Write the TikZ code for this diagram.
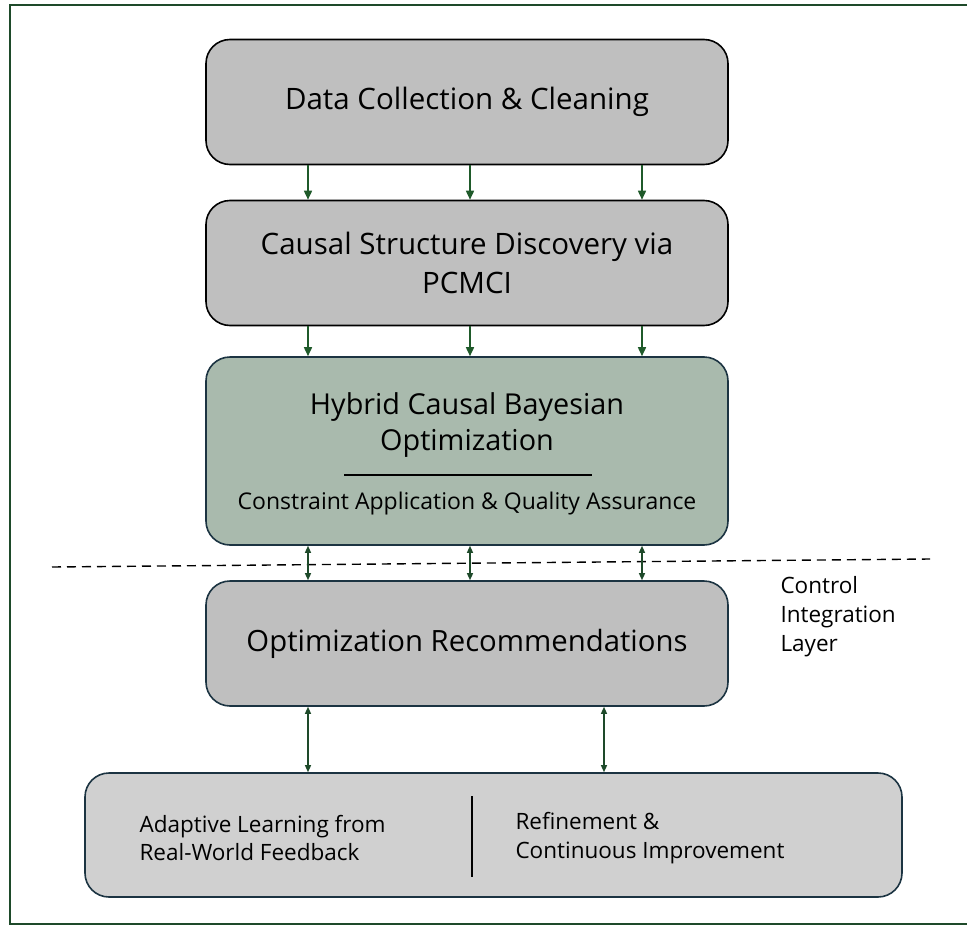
\documentclass[tikz,border=0pt]{standalone}
\usepackage{fontspec}
\setmainfont{Open Sans}
\usetikzlibrary{arrows.meta}
\definecolor{framegreen}{HTML}{1E4A2A}
\definecolor{arrowgreen}{HTML}{1F5A2A}
\definecolor{boxgrey}{HTML}{BFBFBF}
\definecolor{lightgrey}{HTML}{D0D0D0}
\definecolor{sage}{HTML}{A9BAAD}
\definecolor{navyedge}{HTML}{1C3442}
\tikzset{
  stage/.style={draw=black, line width=1.6pt, fill=boxgrey, rounded corners=24pt,
    minimum width=522pt, minimum height=125pt, align=center, inner sep=0pt},
  tealstage/.style={stage, draw=navyedge},
  flow/.style={draw=arrowgreen, line width=1.6pt, -{Triangle[length=9pt,width=8pt]}},
  biflow/.style={draw=framegreen, line width=1.3pt, {Triangle[length=7pt,width=6pt]}-{Triangle[length=7pt,width=6pt]}},
  bigtext/.style={font=\fontsize{29.5}{39}\selectfont},
  midtext/.style={font=\fontsize{23}{29}\selectfont},
  smalltext/.style={font=\fontsize{22.5}{28.8}\selectfont}
}
\begin{document}
\begin{tikzpicture}[x=1pt,y=-1pt]
\useasboundingbox (0,0) rectangle (967,926);
% outer frame (open on the right)
\draw[framegreen, line width=2.5pt] (967,5) -- (10,5) -- (10,924) -- (967,924);

% pipeline stages
\node[stage, bigtext] (collect) at (467,102) {Data Collection \& Cleaning};
\node[stage, bigtext] (discover) at (467,263) {Causal Structure Discovery via\\PCMCI};
\node[tealstage, fill=sage, minimum height=188pt] (hybrid) at (467,451) {};
\node[font=\fontsize{28.8}{36}\selectfont, align=center] (hybridtitle) at (467,425) {Hybrid Causal Bayesian\\Optimization};
\node[midtext] (constraint) at (467,504) {Constraint Application \& Quality Assurance};
\draw[black, line width=1.4pt] (344,475) -- (592,475);
\node[tealstage, font=\fontsize{29.3}{39}\selectfont] (recommend) at (467,643.5) {Optimization Recommendations};
\node[tealstage, fill=lightgrey, minimum width=817pt, minimum height=124pt] (adaptive) at (493.5,835) {};
\node[smalltext, align=left, anchor=west] (feedback) at (136,838) {Adaptive Learning from\\Real-World Feedback};
\node[smalltext, align=left, anchor=west] (refine) at (512,838) {Refinement \&\\Continuous Improvement};
\draw[black, line width=1.4pt] (472,796) -- (472,877);

% control integration layer boundary
\coordinate (layerL) at (52,567);
\coordinate (layerR) at (930,559);
\draw[black, line width=1.4pt, dash pattern=on 9pt off 6pt] (layerL) -- (layerR);
\node[smalltext, align=left, anchor=north west] (layerlabel) at (777,573) {Control\\Integration\\Layer};

% connectors
\foreach \x in {308,470,642} {
  \draw[flow] (collect.south -| \x,0) -- (discover.north -| \x,0);
  \draw[flow] (discover.south -| \x,0) -- (hybrid.north -| \x,0);
  \draw[biflow] (hybrid.south -| \x,0) -- (recommend.north -| \x,0);
}
\foreach \x in {308,604} {
  \draw[biflow] (recommend.south -| \x,0) -- (adaptive.north -| \x,0);
}
\end{tikzpicture}
\end{document}
